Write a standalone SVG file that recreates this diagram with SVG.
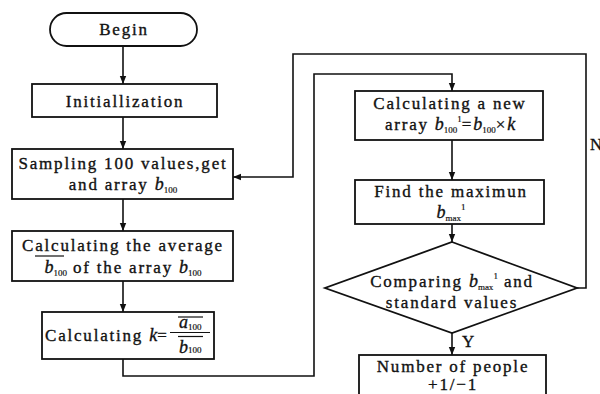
<svg xmlns="http://www.w3.org/2000/svg" width="600" height="394" viewBox="0 0 600 394">
<defs>
<marker id="ah" markerUnits="userSpaceOnUse" markerWidth="8" markerHeight="8" viewBox="0 0 8 8" refX="8" refY="4" orient="auto">
<path d="M0,0.8 L8,4 L0,7.2 Z" fill="#111"/>
</marker>
<style>
.box{fill:#fff;stroke:#111;stroke-width:1.8}
.ln{fill:none;stroke:#111;stroke-width:1.6}
.t{font-family:"Liberation Serif","Times New Roman",serif;font-size:17px;letter-spacing:1.8px;fill:#111;stroke:#111;stroke-width:0.35;text-anchor:middle}
.tl{font-family:"Liberation Serif","Times New Roman",serif;font-size:17px;letter-spacing:1.8px;fill:#111;stroke:#111;stroke-width:0.35}
.i{font-style:italic;font-size:18px;letter-spacing:0}
.s{font-size:9px;letter-spacing:0;stroke-width:0.2}
.ol{stroke:#111;stroke-width:1.2}
</style>
</defs>
<rect width="600" height="394" fill="#fff"/>
<g id="connectors">
<path class="ln" d="M123,46 V84" marker-end="url(#ah)"/>
<path class="ln" d="M123,117 V149" marker-end="url(#ah)"/>
<path class="ln" d="M123,199 V231" marker-end="url(#ah)"/>
<path class="ln" d="M123,281 V312" marker-end="url(#ah)"/>
<path class="ln" d="M123,359 V376 H314 V74 H452 V91" marker-end="url(#ah)"/>
<path class="ln" d="M452,140 V180" marker-end="url(#ah)"/>
<path class="ln" d="M452,224 V242" marker-end="url(#ah)"/>
<path class="ln" d="M452,333 V355" marker-end="url(#ah)"/>
<path class="ln" d="M577,288 H586 V54 H293 V177 H233" marker-end="url(#ah)"/>
<text class="tl" x="462" y="347">Y</text>
<text class="tl" x="590" y="150">N</text>
</g>
<g id="begin">
<rect class="box" x="50" y="13" width="147" height="33" rx="16.5"/>
<text class="t" x="124" y="35">Begin</text>
</g>
<g id="init">
<rect class="box" x="32" y="84" width="185" height="33"/>
<text class="t" x="125" y="107">Initiallization</text>
</g>
<g id="sampling">
<rect class="box" x="12" y="149" width="221" height="50"/>
<text class="t" x="123" y="169">Sampling 100 values,get</text>
<text class="t" x="123" y="190">and array <tspan class="i">b</tspan><tspan class="s" dy="3">100</tspan></text>
</g>
<g id="average">
<rect class="box" x="12" y="231" width="221" height="50"/>
<text class="t" x="123" y="251">Calculating the average</text>
<text class="t" x="123" y="273"><tspan class="i">b</tspan><tspan class="s" dy="3">100</tspan><tspan dy="-3"> of the array </tspan><tspan class="i">b</tspan><tspan class="s" dy="3">100</tspan></text>
<line class="ol" x1="35" y1="256" x2="64" y2="256"/>
</g>
<g id="calck">
<rect class="box" x="42" y="312" width="172" height="47"/>
<text class="tl" x="45" y="341">Calculating <tspan class="i">k</tspan>=</text>
<text class="tl" x="179" y="328"><tspan class="i">a</tspan><tspan class="s" dy="2">100</tspan></text>
<text class="tl" x="179" y="353"><tspan class="i">b</tspan><tspan class="s" dy="0">100</tspan></text>
<line class="ol" x1="178" y1="317" x2="203" y2="317"/>
<line class="ol" x1="170" y1="332.5" x2="210" y2="332.5"/>
<line class="ol" x1="178" y1="336.5" x2="203" y2="336.5"/>
</g>
<g id="newarray">
<rect class="box" x="355" y="91" width="188" height="49"/>
<text class="t" x="450" y="109">Calculating a new</text>
<text class="t" x="450" y="130">array <tspan class="i">b</tspan><tspan class="s" dy="3">100</tspan><tspan class="s" dy="-11">1</tspan><tspan dy="8">=</tspan><tspan class="i">b</tspan><tspan class="s" dy="3">100</tspan><tspan dy="-3">×</tspan><tspan class="i">k</tspan></text>
</g>
<g id="findmax">
<rect class="box" x="355" y="180" width="189" height="44"/>
<text class="t" x="451" y="197">Find the maximun</text>
<text class="t" x="451" y="218"><tspan class="i">b</tspan><tspan class="s" dy="3">max</tspan><tspan class="s" dy="-11">1</tspan></text>
</g>
<g id="compare">
<polygon class="box" points="452,242 577,288 452,333 325,288"/>
<text class="t" x="452" y="287">Comparing <tspan class="i">b</tspan><tspan class="s" dy="3">max</tspan><tspan class="s" dy="-11">1</tspan><tspan dy="8"> and</tspan></text>
<text class="t" x="452" y="308">standard values</text>
</g>
<g id="people">
<rect class="box" x="359" y="355" width="187" height="50"/>
<text class="t" x="453" y="372">Number of people</text>
<text class="t" x="453" y="390">+1/−1</text>
</g>
</svg>
